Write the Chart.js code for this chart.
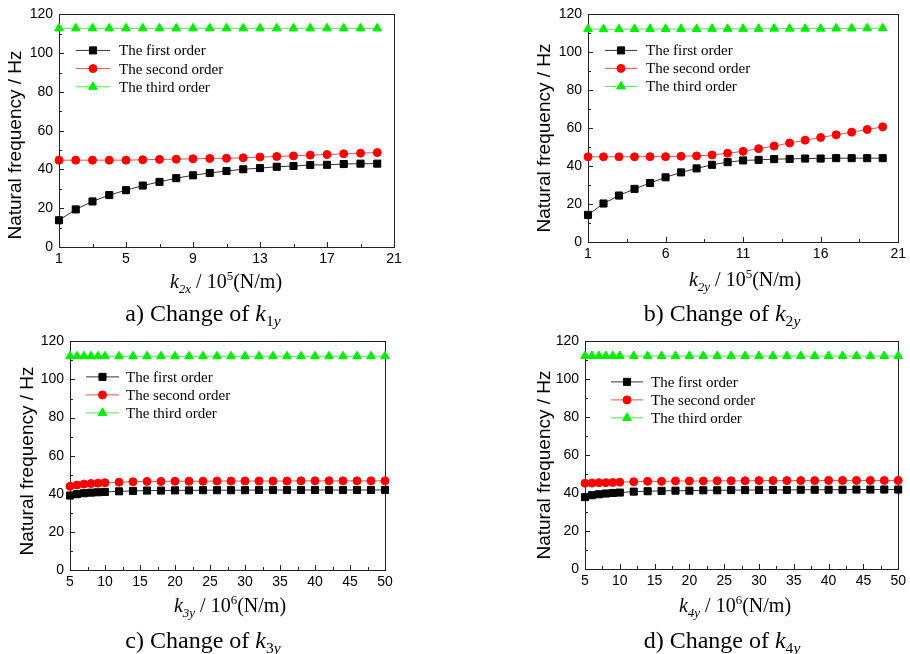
<!DOCTYPE html>
<html>
<head>
<meta charset="utf-8">
<script src="https://cdn.jsdelivr.net/npm/chart.js@4.4.1/dist/chart.umd.min.js"></script>
<style>
  body { margin: 0; background: #fff; }
  #page { position: relative; width: 910px; height: 654px; overflow: hidden; }
  canvas { position: absolute; }
  .txt { position: absolute; transform: translate(-50%, -50%); white-space: nowrap; color: #000; }
  .ytitle { font: 19px "Liberation Sans", Arial, sans-serif; transform: translate(-50%, -50%) rotate(-90deg); }
  .xtitle { font: 20px "Liberation Serif", "Times New Roman", serif; }
  .cap { font: 24px "Liberation Serif", "Times New Roman", serif; }
  sub, sup { font-size: 65%; line-height: 0; }
</style>
</head>
<body>
<div id="page">
  <canvas id="chartA" width="420" height="270" style="left:0;top:0"></canvas>
  <canvas id="chartB" width="450" height="270" style="left:460px;top:0"></canvas>
  <canvas id="chartC" width="420" height="273" style="left:0;top:327px"></canvas>
  <canvas id="chartD" width="450" height="273" style="left:460px;top:327px"></canvas>

  <div class="txt ytitle" style="left:15px;top:145px">Natural frequency / Hz</div>
  <div class="txt ytitle" style="left:544px;top:138px">Natural frequency / Hz</div>
  <div class="txt ytitle" style="left:27px;top:461px">Natural frequency / Hz</div>
  <div class="txt ytitle" style="left:544px;top:465px">Natural frequency / Hz</div>

  <div class="txt xtitle" style="left:226px;top:281px"><i>k</i><sub><i>2x</i></sub> / 10<sup>5</sup>(N/m)</div>
  <div class="txt xtitle" style="left:745px;top:279px"><i>k</i><sub><i>2y</i></sub> / 10<sup>5</sup>(N/m)</div>
  <div class="txt xtitle" style="left:230px;top:605px"><i>k</i><sub><i>3y</i></sub> / 10<sup>6</sup>(N/m)</div>
  <div class="txt xtitle" style="left:735px;top:605px"><i>k</i><sub><i>4y</i></sub> / 10<sup>6</sup>(N/m)</div>

  <div class="txt cap" style="left:203px;top:313px">a) Change of <i>k</i><sub>1<i>y</i></sub></div>
  <div class="txt cap" style="left:722px;top:313px">b) Change of <i>k</i><sub>2<i>y</i></sub></div>
  <div class="txt cap" style="left:203px;top:640px">c) Change of <i>k</i><sub>3<i>y</i></sub></div>
  <div class="txt cap" style="left:722px;top:640px">d) Change of <i>k</i><sub>4<i>y</i></sub></div>
</div>
<script>
// series names
var seriesNames = ['The first order', 'The second order', 'The third order'];

// y axis ticks (all panels)
var yTicks = [0, 20, 40, 60, 80, 100, 120];

// a) k2x sweep, 10^5 N/m
var kA = [1, 2, 3, 4, 5, 6, 7, 8, 9, 10, 11, 12, 13, 14, 15, 16, 17, 18, 19, 20];
var aFirst = [13.8, 19.4, 23.5, 26.8, 29.3, 31.7, 33.6, 35.5, 37.0, 38.2, 39.2, 40.1, 40.7, 41.4, 41.8, 42.3, 42.4, 42.8, 43.0, 43.0];
var aSecond = [44.8, 44.8, 44.8, 44.8, 44.8, 45.0, 45.2, 45.3, 45.5, 45.7, 45.8, 46.0, 46.4, 46.7, 47.0, 47.4, 47.7, 48.1, 48.4, 48.7];
var aThird = [112.8, 112.8, 112.8, 112.8, 112.8, 112.8, 112.8, 112.8, 112.8, 112.8, 112.8, 112.8, 112.8, 112.8, 112.8, 112.8, 112.8, 112.8, 112.8, 112.8];
var aTicks = [1, 5, 9, 13, 17, 21];

// b) k2y sweep, 10^5 N/m
var kB = [1, 2, 3, 4, 5, 6, 7, 8, 9, 10, 11, 12, 13, 14, 15, 16, 17, 18, 19, 20];
var bFirst = [14.3, 20.3, 24.5, 28.0, 31.1, 34.1, 36.7, 38.8, 40.7, 42.1, 43.0, 43.3, 43.7, 43.8, 44.0, 44.0, 44.2, 44.2, 44.2, 44.2];
var bSecond = [44.9, 44.9, 44.9, 44.9, 45.0, 45.0, 45.2, 45.4, 45.9, 46.8, 47.8, 49.2, 50.6, 52.2, 53.7, 55.1, 56.5, 57.9, 59.3, 60.7];
var bThird = [112.2, 112.2, 112.2, 112.3, 112.3, 112.3, 112.3, 112.3, 112.4, 112.4, 112.4, 112.4, 112.5, 112.5, 112.5, 112.5, 112.6, 112.6, 112.7, 112.7];
var bTicks = [1, 6, 11, 16, 21];

// c) k3y sweep, 10^6 N/m
var kC = [5, 6, 7, 8, 9, 10, 12, 14, 16, 18, 20, 22, 24, 26, 28, 30, 32, 34, 36, 38, 40, 42, 44, 46, 48, 50];
var cFirst = [39.1, 39.8, 40.3, 40.6, 40.8, 41.0, 41.3, 41.5, 41.7, 41.7, 41.8, 41.8, 41.9, 41.9, 41.9, 41.9, 42.0, 42.0, 42.0, 42.0, 42.0, 42.0, 42.0, 42.0, 42.0, 42.0];
var cSecond = [43.9, 44.6, 45.1, 45.4, 45.6, 45.8, 46.1, 46.3, 46.5, 46.5, 46.6, 46.6, 46.6, 46.7, 46.7, 46.7, 46.7, 46.7, 46.7, 46.8, 46.8, 46.8, 46.8, 46.8, 46.8, 46.8];
var cThird = [112.2, 112.2, 112.2, 112.2, 112.2, 112.2, 112.2, 112.2, 112.2, 112.2, 112.2, 112.2, 112.2, 112.2, 112.2, 112.2, 112.2, 112.2, 112.2, 112.2, 112.2, 112.2, 112.2, 112.2, 112.2, 112.2];
var cTicks = [5, 10, 15, 20, 25, 30, 35, 40, 45, 50];

// d) k4y sweep, 10^6 N/m
var kD = [5, 6, 7, 8, 9, 10, 12, 14, 16, 18, 20, 22, 24, 26, 28, 30, 32, 34, 36, 38, 40, 42, 44, 46, 48, 50];
var dFirst = [37.9, 38.9, 39.4, 39.8, 40.1, 40.3, 40.8, 41.0, 41.2, 41.3, 41.3, 41.5, 41.5, 41.6, 41.6, 41.7, 41.7, 41.7, 41.8, 41.8, 41.8, 41.8, 41.9, 41.9, 41.9, 41.9];
var dSecond = [45.2, 45.3, 45.5, 45.5, 45.6, 45.8, 46.0, 46.2, 46.2, 46.4, 46.4, 46.4, 46.5, 46.5, 46.5, 46.6, 46.6, 46.6, 46.6, 46.6, 46.7, 46.7, 46.7, 46.7, 46.7, 46.7];
var dThird = [112.3, 112.3, 112.3, 112.3, 112.3, 112.3, 112.3, 112.3, 112.3, 112.3, 112.3, 112.3, 112.3, 112.3, 112.3, 112.3, 112.3, 112.3, 112.3, 112.3, 112.3, 112.3, 112.3, 112.3, 112.3, 112.3];
var dTicks = [5, 10, 15, 20, 25, 30, 35, 40, 45, 50];

function toPoints(xs, ys) {
  return xs.map(function (x, i) { return { x: x, y: ys[i] }; });
}

// frame + inward ticks (major and half-step minor)
var framePlugin = {
  id: 'frame',
  beforeDatasetsDraw: function (chart) {
    var ctx = chart.ctx, a = chart.chartArea;
    var xs = chart.scales.x, ys = chart.scales.y;
    ctx.save();
    ctx.strokeStyle = '#222';
    ctx.lineWidth = 1;
    ctx.strokeRect(Math.round(a.left) + 0.5, Math.round(a.top) + 0.5,
                   Math.round(a.right - a.left), Math.round(a.bottom - a.top));
    ctx.beginPath();
    var xt = xs.ticks.map(function (t) { return t.value; });
    for (var i = 0; i < xt.length; i++) {
      var px = Math.round(xs.getPixelForValue(xt[i])) + 0.5;
      ctx.moveTo(px, a.bottom); ctx.lineTo(px, a.bottom - 5);
      if (i < xt.length - 1) {
        var pm = Math.round(xs.getPixelForValue((xt[i] + xt[i + 1]) / 2)) + 0.5;
        ctx.moveTo(pm, a.bottom); ctx.lineTo(pm, a.bottom - 3);
      }
    }
    var yt = ys.ticks.map(function (t) { return t.value; });
    for (var j = 0; j < yt.length; j++) {
      var py = Math.round(ys.getPixelForValue(yt[j])) + 0.5;
      ctx.moveTo(a.left, py); ctx.lineTo(a.left + 5, py);
      if (j < yt.length - 1) {
        var qm = Math.round(ys.getPixelForValue((yt[j] + yt[j + 1]) / 2)) + 0.5;
        ctx.moveTo(a.left, qm); ctx.lineTo(a.left + 3, qm);
      }
    }
    ctx.stroke();
    ctx.restore();
  }
};

// legend drawn inside the plot: line + marker + label
var boxLegend = {
  id: 'boxLegend',
  afterDatasetsDraw: function (chart, args, opts) {
    var ctx = chart.ctx, a = chart.chartArea;
    ctx.save();
    chart.data.datasets.forEach(function (ds, i) {
      var y = a.top + opts.dy + i * opts.gap;
      ctx.strokeStyle = ds.borderColor;
      ctx.lineWidth = 1;
      ctx.beginPath();
      ctx.moveTo(a.left + opts.dx, y);
      ctx.lineTo(a.left + opts.dx + opts.len, y);
      ctx.stroke();
      ctx.fillStyle = ds.pointBackgroundColor;
      ctx.strokeStyle = ds.pointBorderColor;
      Chart.helpers.drawPoint(ctx, { pointStyle: ds.pointStyle, radius: ds.pointRadius, rotation: 0, borderWidth: 1 },
        a.left + opts.dx + opts.len / 2, y);
      ctx.fillStyle = '#000';
      ctx.font = "15px 'Liberation Serif'";
      ctx.textBaseline = 'middle';
      ctx.textAlign = 'left';
      ctx.fillText(ds.label, a.left + opts.tx, y + 1);
    });
    ctx.restore();
  }
};

function makePanel(id, ks, first, second, third, xTicks, geo, leg) {
  var datasets = [
    { label: seriesNames[0], data: toPoints(ks, first), borderColor: '#333', pointBackgroundColor: '#000',
      pointBorderColor: '#000', pointStyle: 'rect', pointRadius: 5 },
    { label: seriesNames[1], data: toPoints(ks, second), borderColor: '#ff4a4a', pointBackgroundColor: '#ff0000',
      pointBorderColor: '#ff0000', pointStyle: 'circle', pointRadius: 4 },
    { label: seriesNames[2], data: toPoints(ks, third), borderColor: '#44ee44', pointBackgroundColor: '#00ee00',
      pointBorderColor: '#00ee00', pointStyle: 'triangle', pointRadius: 5 }
  ];
  datasets.forEach(function (d) { d.borderWidth = 1; d.pointBorderWidth = 1; d.clip = false; d.tension = 0; });

  return new Chart(document.getElementById(id), {
    type: 'line',
    data: { datasets: datasets },
    options: {
      responsive: false,
      animation: false,
      layout: { padding: { top: geo.top, right: geo.right, bottom: 0, left: 0 } },
      plugins: { legend: { display: false }, tooltip: { enabled: false }, boxLegend: leg },
      scales: {
        x: {
          type: 'linear', min: xTicks[0], max: xTicks[xTicks.length - 1],
          grid: { display: false, drawTicks: false }, border: { display: false },
          afterBuildTicks: function (s) { s.ticks = xTicks.map(function (v) { return { value: v }; }); },
          afterFit: function (s) { s.height = geo.xh; },
          ticks: { padding: 4, color: '#000', maxRotation: 0, autoSkip: false,
                   font: { family: 'Liberation Sans', size: 14 } }
        },
        y: {
          min: 0, max: 120,
          grid: { display: false, drawTicks: false }, border: { display: false },
          afterBuildTicks: function (s) { s.ticks = yTicks.map(function (v) { return { value: v }; }); },
          afterFit: function (s) { s.width = geo.yw; },
          ticks: { padding: 6, color: '#000', font: { family: 'Liberation Sans', size: 14 } }
        }
      }
    },
    plugins: [framePlugin, boxLegend]
  });
}

makePanel('chartA', kA, aFirst, aSecond, aThird, aTicks,
  { top: 12, right: 26, xh: 23, yw: 59 }, { dx: 17, len: 34, tx: 60, dy: 36, gap: 18.2 });
makePanel('chartB', kB, bFirst, bSecond, bThird, bTicks,
  { top: 12, right: 8, xh: 28, yw: 128 }, { dx: 17, len: 32, tx: 58, dy: 36, gap: 18 });
makePanel('chartC', kC, cFirst, cSecond, cThird, cTicks,
  { top: 10, right: 35, xh: 30, yw: 70 }, { dx: 16, len: 33, tx: 56, dy: 35.5, gap: 18 });
makePanel('chartD', kD, dFirst, dSecond, dThird, dTicks,
  { top: 10, right: 9, xh: 31, yw: 125 }, { dx: 26, len: 32, tx: 66, dy: 40.5, gap: 18 });
</script>
</body>
</html>
